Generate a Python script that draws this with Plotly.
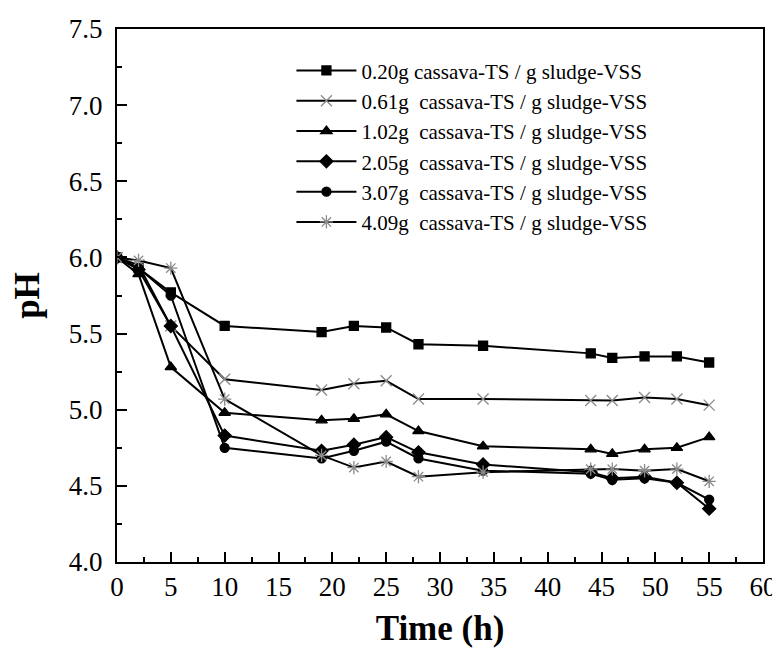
import plotly.graph_objects as go

time_h = [0, 2, 5, 10, 19, 22, 25, 28, 34, 44, 46, 49, 52, 55]
ph_020 = [6.00, 5.93, 5.77, 5.55, 5.51, 5.55, 5.54, 5.43, 5.42, 5.37, 5.34, 5.35, 5.35, 5.31]
ph_061 = [6.00, 5.95, 5.55, 5.20, 5.13, 5.17, 5.19, 5.07, 5.07, 5.06, 5.06, 5.08, 5.07, 5.03]
ph_102 = [6.00, 5.89, 5.28, 4.98, 4.93, 4.94, 4.97, 4.86, 4.76, 4.74, 4.71, 4.74, 4.75, 4.82]
ph_205 = [6.00, 5.92, 5.55, 4.83, 4.73, 4.77, 4.82, 4.72, 4.64, 4.59, 4.55, 4.56, 4.52, 4.35]
ph_307 = [6.00, 5.93, 5.75, 4.75, 4.68, 4.73, 4.79, 4.68, 4.60, 4.58, 4.54, 4.55, 4.52, 4.41]
ph_409 = [6.00, 5.98, 5.93, 5.07, 4.70, 4.62, 4.66, 4.56, 4.59, 4.61, 4.61, 4.60, 4.61, 4.53]

names = [
    "0.20g cassava-TS / g sludge-VSS",
    "0.61g  cassava-TS / g sludge-VSS",
    "1.02g  cassava-TS / g sludge-VSS",
    "2.05g  cassava-TS / g sludge-VSS",
    "3.07g  cassava-TS / g sludge-VSS",
    "4.09g  cassava-TS / g sludge-VSS",
]
series = [ph_020, ph_061, ph_102, ph_205, ph_307, ph_409]
symbols = ["square", "x-thin-open", "triangle-up", "diamond", "circle", "asterisk-open"]
mcolors = ["black", "#8a8a8a", "black", "black", "black", "#8a8a8a"]
msizes = [9, 11, 10, 10, 9, 11]

fig = go.Figure()
for nm, ys, sym, mc, ms in zip(names, series, symbols, mcolors, msizes):
    fig.add_trace(go.Scatter(
        x=time_h, y=ys, name=nm, mode="lines+markers",
        line=dict(color="black", width=2),
        marker=dict(symbol=sym, size=ms, color=mc, line=dict(color=mc, width=1.3)),
    ))

font = "Liberation Serif, Times New Roman, serif"
fig.update_layout(
    width=780, height=649,
    margin=dict(l=109, r=25, t=21, b=95),
    paper_bgcolor="white", plot_bgcolor="white",
    font=dict(family=font, color="black", size=20),
    showlegend=True,
    legend=dict(x=0.27, y=0.96, xanchor="left", yanchor="top",
                bgcolor="rgba(0,0,0,0)", font=dict(size=21, family=font),
                tracegroupgap=0, itemwidth=60),
)
fig.update_xaxes(
    range=[0, 60], tick0=0, dtick=5, showgrid=False, zeroline=False, automargin=False,
    showline=True, linecolor="black", linewidth=2, mirror=True,
    ticks="inside", ticklen=10, tickwidth=2, tickcolor="black", ticklabelstandoff=0,
    minor=dict(ticks="inside", ticklen=5, tickwidth=2, tickcolor="black", dtick=2.5, showgrid=False),
    tickfont=dict(size=27, family=font),
    title=dict(text="<b>Time (h)</b>", font=dict(size=35, family=font), standoff=14),
)
fig.update_yaxes(
    range=[4.0, 7.5], tick0=4.0, dtick=0.5, tickformat=".1f", showgrid=False, zeroline=False,
    automargin=False,
    showline=True, linecolor="black", linewidth=2, mirror=True,
    ticks="inside", ticklen=10, tickwidth=2, tickcolor="black", ticklabelstandoff=7,
    minor=dict(ticks="inside", ticklen=5, tickwidth=2, tickcolor="black", dtick=0.25, showgrid=False),
    tickfont=dict(size=27, family=font),
    title=dict(text="<b>pH</b>", font=dict(size=35, family=font), standoff=22),
)
fig.write_html("out.html")
